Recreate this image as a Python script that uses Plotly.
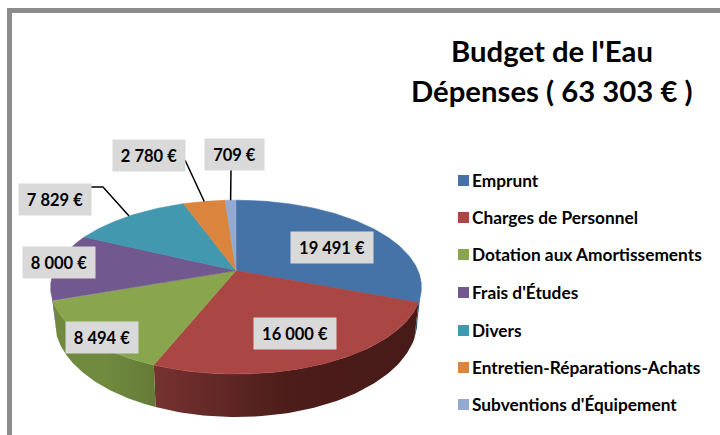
import numpy as np
import plotly.graph_objects as go

# ---- data ----
categories = ["Emprunt", "Charges de Personnel", "Dotation aux Amortissements",
              "Frais d'Études", "Divers", "Entretien-Réparations-Achats",
              "Subventions d'Équipement"]
values = [19491, 16000, 8494, 8000, 7829, 2780, 709]
value_labels = ["19 491 €", "16 000 €", "8 494 €", "8 000 €", "7 829 €", "2 780 €", "709 €"]
colors = ["#4572A7", "#AA4643", "#89A54E", "#71588F", "#4198AF", "#DB843D", "#93A9CF"]
title_lines = ["Budget de l'Eau", "Dépenses ( 63 303 € )"]

# ---- layout constants (page pixels) ----
W, H = 720, 435
FONT = "Lato"
APEX_X, APEX_Y = 236.0, 270.6
A, B, K = 83.8, 182.0, 0.19          # perspective of the tilted disc
TOP_C, TOP_R = (236.0, 287.0), (185.0, 87.0)
LOW_C, LOW_R = (236.0, 321.0), (181.0, 96.0)
LABEL_BOXES = [(291, 373, 232, 263), (254, 336, 318, 349), (66, 138, 322, 353),
               (23, 95, 247, 278), (19, 91, 184, 215), (113, 185, 140, 171),
               (205, 264, 139, 170)]
LEGEND_X, LEGEND_TEXT_X = 463.5, 471
LEGEND_Y = [180.5, 217.5, 254.5, 292.5, 330.5, 367.5, 404.5]
TITLE_X, TITLE_Y = 551.5, (50.5, 90)
WALL_GRADIENTS = {
    0: ((405, 425), [[0, "#2f4f78"], [1, "#2f4f78"]]),
    1: ((155, 420), [[0, "#763230"], [0.5, "#4c1d1a"], [1, "#471a18"]]),
    2: ((55, 157), [[0, "#6f8a3e"], [0.5, "#708a3f"], [1, "#647a37"]]),
    3: ((50, 60), [[0, "#4b3a63"], [1, "#4b3a63"]]),
}
LEADER_ELBOWS = {4: [(91, 187), (103, 187)], 5: [(185, 160)], 6: [(231, 170)]}


def rim(deg):
    """Point of the top rim at a clockwise angle from 12 o'clock."""
    t = np.radians(deg)
    u, v = np.sin(t), np.cos(t)
    w = 1 + K * v
    return APEX_X + B * u / w, APEX_Y - A * v / w


def low(x, y):
    """Matching point of the lower rim of the disc."""
    ex = (x - TOP_C[0]) / TOP_R[0]
    ey = (y - TOP_C[1]) / TOP_R[1]
    return LOW_C[0] + LOW_R[0] * ex, LOW_C[1] + LOW_R[1] * ey


total = sum(values)
edges = np.concatenate([[0], np.cumsum(values)]) / total * 360
fig = go.Figure()

# side wall, only where the rim faces the viewer
for i, col in enumerate(colors):
    a0, a1 = max(edges[i], 101.0), min(edges[i + 1], 259.0)
    if a1 <= a0:
        continue
    xs, ys = rim(np.linspace(a0, a1, 90))
    lx, ly = low(xs, ys)
    (g0, g1), scale = WALL_GRADIENTS[i]
    fig.add_trace(go.Scatter(
        x=np.concatenate([xs, lx[::-1]]), y=np.concatenate([ys, ly[::-1]]),
        mode="lines", line=dict(width=0), fill="toself", hoverinfo="skip", showlegend=False,
        fillgradient=dict(type="horizontal", start=g0, stop=g1, colorscale=scale)))

# top of the disc
for i, col in enumerate(colors):
    xs, ys = rim(np.linspace(edges[i], edges[i + 1], 120))
    fig.add_trace(go.Scatter(
        x=np.concatenate([[APEX_X], xs, [APEX_X]]), y=np.concatenate([[APEX_Y], ys, [APEX_Y]]),
        mode="lines", line=dict(width=0.6, color=col), fill="toself", fillcolor=col,
        name=categories[i], hovertemplate="%{fullData.name}<extra>" + value_labels[i] + "</extra>",
        showlegend=False))

# leader lines, ending on the middle of their slice's rim
for i, elbow in LEADER_ELBOWS.items():
    end = rim((edges[i] + edges[i + 1]) / 2)
    pts = elbow + [end]
    fig.add_trace(go.Scatter(x=[p[0] for p in pts], y=[p[1] for p in pts], mode="lines",
                             line=dict(color="black", width=1.5), hoverinfo="skip", showlegend=False))

# legend swatches
for i, col in enumerate(colors):
    fig.add_trace(go.Scatter(x=[LEGEND_X], y=[LEGEND_Y[i]], mode="markers", hoverinfo="skip", showlegend=False,
                             marker=dict(symbol="square", size=11, color=col, line=dict(width=0))))

annotations = []
for i, txt in enumerate(value_labels):
    x0, x1, y0, y1 = LABEL_BOXES[i]
    annotations.append(dict(x=(x0 + x1) / 2, y=(y0 + y1) / 2, xref="x", yref="y", text=f"<b>{txt}</b>",
                            showarrow=False, bgcolor="#D9D9D9", borderpad=0, width=x1 - x0, height=y1 - y0,
                            align="center", valign="middle", font=dict(family=FONT, size=16.5, color="black")))
for i, txt in enumerate(categories):
    annotations.append(dict(x=LEGEND_TEXT_X, y=LEGEND_Y[i] - 0.5, xref="x", yref="y", xanchor="left", yanchor="middle",
                            text=f"<b>{txt}</b>", showarrow=False, borderpad=0,
                            font=dict(family=FONT, size=17.3, color="black")))
for txt, yy in zip(title_lines, TITLE_Y):
    annotations.append(dict(x=TITLE_X, y=yy, xref="x", yref="y", xanchor="center", yanchor="middle",
                            text=f"<b>{txt}</b>", showarrow=False, borderpad=0,
                            font=dict(family=FONT, size=29.3, color="black")))

frame = [dict(type="rect", xref="x", yref="y", x0=7, x1=W, y0=8, y1=13, fillcolor="#8C8C8C", line_width=0),
         dict(type="rect", xref="x", yref="y", x0=7, x1=12, y0=8, y1=H, fillcolor="#8C8C8C", line_width=0)]

fig.update_layout(width=W, height=H, margin=dict(l=0, r=0, t=0, b=0), autosize=False,
                  paper_bgcolor="white", plot_bgcolor="white", showlegend=False,
                  annotations=annotations, shapes=frame,
                  xaxis=dict(range=[0, W], visible=False, fixedrange=True),
                  yaxis=dict(range=[H, 0], visible=False, fixedrange=True))
fig.write_html("out.html", config=dict(displayModeBar=False),
               post_script="document.body.style.margin='0';document.body.style.overflow='hidden';")
